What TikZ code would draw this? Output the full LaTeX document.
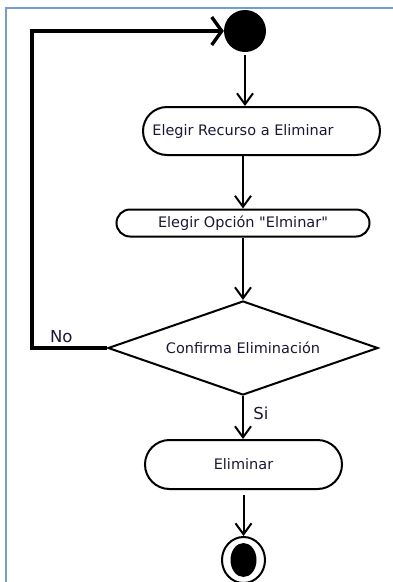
\documentclass[tikz,border=0pt]{standalone}
\usepackage{fontspec}
\setmainfont{DejaVu Sans}
\usetikzlibrary{shapes.geometric,shapes.misc,arrows.meta}
\definecolor{marco}{RGB}{115,158,215}
\definecolor{letra}{RGB}{25,25,55}

\begin{document}
\begin{tikzpicture}[x=1pt,y=-1pt,
	accion/.style={draw,rounded rectangle,line width=2pt,inner sep=0pt,text=letra,font=\fontsize{14.5}{17}\selectfont},
	flecha/.style={line width=2pt,-{Straight Barb[length=11pt,width=16pt]}},
	etiqueta/.style={text=letra,font=\fontsize{16.5}{19}\selectfont}]
	\useasboundingbox (0,0) rectangle (393,582);
	\clip (0,0) rectangle (393,582);
	
	%FRAME
	\draw[marco,line width=2.5pt] (6,582) -- (6,8) -- (393,8);
	
	%NODES
	\node[circle,fill=black,minimum size=42pt,inner sep=0pt] (inicio) at (245,31) {};	%start
	\node[accion,minimum width=237pt,minimum height=48pt] (elegir) at (261.5,131) {\hspace*{-37pt}Elegir Recurso a Eliminar};
	\node[accion,minimum width=253pt,minimum height=27pt] (opcion) at (243,223) {Elegir Opción \textquotedbl Elminar\textquotedbl};
	\node[diamond,draw,line width=2pt,aspect=2.87,minimum width=270pt,minimum height=94pt,inner sep=0pt,text=letra,font=\fontsize{14.5}{17}\selectfont] (confirma) at (243,348) {Confirma Eliminación};	%decision
	\node[accion,minimum width=197pt,minimum height=49pt] (eliminar) at (243.5,464.5) {Eliminar};
	\node[ellipse,draw,line width=2pt,minimum width=43pt,minimum height=46pt,inner sep=0pt] (fin) at (243.5,560) {};	%end
	\fill (fin.center) ellipse [x radius=13pt,y radius=17pt];
	
	%ARROWS
	\draw[flecha,shorten <=3pt] (inicio.south) -- (inicio.south |- elegir.north);
	\draw[flecha] (opcion.north |- elegir.south) -- (opcion.north);
	\draw[flecha] (opcion.south) -- (confirma.north);
	\draw[flecha] (confirma.south) -- node[etiqueta,right,pos=0.4,xshift=6pt] {Si} (confirma.south |- eliminar.north);
	\draw[flecha,shorten <=5pt] (eliminar.south) -- (fin.north);
	%
	\draw[line width=3.4pt,-{Straight Barb[length=10pt,width=28pt]}] (confirma.west) -- ++(-75,0) node[etiqueta,above,pos=0.61] {No} |- (inicio.west);	%loop back
\end{tikzpicture}
\end{document}
